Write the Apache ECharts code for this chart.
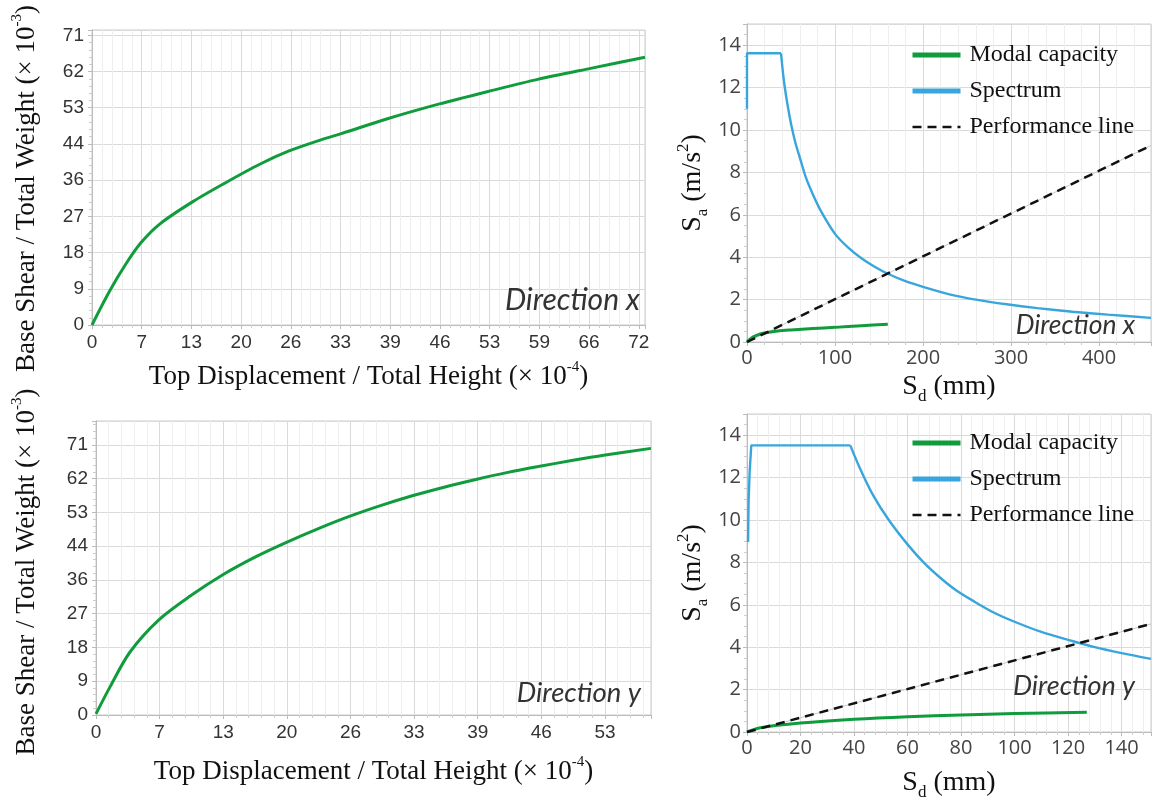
<!DOCTYPE html>
<html>
<head>
<meta charset="utf-8">
<script src="https://cdn.jsdelivr.net/npm/echarts@6/dist/echarts.min.js"></script>
<style>
  html, body { margin: 0; padding: 0; background: #fff; }
  #main { width: 1156px; height: 804px; }
</style>
</head>
<body>
<div id="main"></div>
<script>
// ---- pushover curves (x: top disp / height x1e-4, y: base shear / weight x1e-3)
const pushXDisp  = [0, 2.3, 4.5, 6.5, 9, 13.4, 17.8, 22.2, 26, 30, 33, 39, 46, 53, 59, 66, 73.2];
const pushXShear = [0, 8.2, 15.0, 20.2, 24.8, 30.3, 35.0, 39.4, 42.6, 45.2, 46.9, 50.5, 54.2, 57.5, 60.2, 62.9, 65.6];

const pushYDisp  = [0, 1.45, 3.5, 6.5, 9.7, 13.2, 16.6, 19.7, 23, 26.2, 29.5, 32.8, 36, 39.4, 42.6, 45.9, 49.2, 52.5, 57.4];
const pushYShear = [0.3, 7.4, 16.5, 25.0, 31.2, 37.0, 41.7, 45.4, 49.0, 52.2, 55.1, 57.7, 59.9, 62.0, 63.8, 65.4, 66.9, 68.3, 70.1];

// tick labels printed on the pushover axes
const pushXTicksX = ['0', '7', '13', '20', '26', '33', '39', '46', '53', '59', '66', '72'];
const pushXTicksY = ['0', '7', '13', '20', '26', '33', '39', '46', '53'];
const pushYTicks  = ['0', '9', '18', '27', '36', '44', '53', '62', '71'];
const dispStep = 6.58;
const shearStep = 8.875;

// ---- capacity spectrum, direction x (Sd mm, Sa m/s2)
const capXSd = [0, 3, 7.6, 15, 25, 35, 50, 75, 100, 130, 160];
const capXSa = [0, 0.12, 0.25, 0.38, 0.46, 0.52, 0.57, 0.64, 0.69, 0.77, 0.84];
const specXTopSd = [0, 0, 38.6];
const specXTopSa = [11.0, 13.62, 13.62];
const specXTailSd = [38.6, 42, 46, 50, 55, 60, 67, 75, 85, 100, 115, 130, 145, 160, 180, 200, 230, 260, 295, 330, 370, 410, 459];
const specXTailSa = [13.62, 12.3, 11.2, 10.3, 9.4, 8.7, 7.75, 6.95, 6.1, 5.1, 4.45, 3.95, 3.55, 3.22, 2.87, 2.6, 2.25, 2.0, 1.78, 1.6, 1.43, 1.29, 1.14];
const perfXSd = [0, 459];
const perfXSa = [0, 9.27];

// ---- capacity spectrum, direction y
const capYSd = [0, 5, 20, 40, 60, 80, 100, 127];
const capYSa = [0, 0.2, 0.42, 0.6, 0.72, 0.8, 0.87, 0.93];
const specYTopSd = [0.4, 0.6, 1.0, 1.6, 38.6];
const specYTopSa = [8.96, 10.9, 12.3, 13.52, 13.52];
const specYTailSd = [38.6, 42, 47, 53, 60, 66, 72, 78, 85, 92, 100, 110, 120, 130, 140, 151];
const specYTailSa = [13.52, 12.5, 11.2, 10.0, 8.85, 8.0, 7.3, 6.7, 6.15, 5.65, 5.2, 4.72, 4.35, 4.0, 3.72, 3.45];
const perfYSd = [0, 151];
const perfYSa = [0, 5.1];

const legendNames = ['Modal capacity', 'Spectrum', 'Performance line'];

const GREEN = '#109c3c';
const BLUE = '#38a6dc';
const SERIF = '"Liberation Serif", "Times New Roman", serif';
const SANS = '"Liberation Sans", Arial, sans-serif';
const SANS2 = '"Open Sans", "Noto Sans", sans-serif';

function zip(xs, ys) {
  return xs.map((x, i) => [x, ys[i]]);
}

function pickLabel(list, step) {
  return function(v) {
    const i = Math.round(v / step);
    return list[i] !== undefined ? list[i] : '';
  };
}

const nameRich = {
  n: { fontFamily: SERIF, fontSize: 27, lineHeight: 34, color: '#111' },
  sup: { fontFamily: SERIF, fontSize: 15, lineHeight: 15, color: '#111', verticalAlign: 'top' },
  big: { fontFamily: SERIF, fontSize: 28, lineHeight: 36, color: '#111' },
  sub: { fontFamily: SERIF, fontSize: 17, lineHeight: 17, color: '#111', verticalAlign: 'bottom' },
  bsup: { fontFamily: SERIF, fontSize: 17, lineHeight: 17, color: '#111', verticalAlign: 'top' }
};

function baseAxis(extra) {
  return Object.assign({
    type: 'value',
    min: 0,
    axisLine: { show: true, lineStyle: { color: '#bbb' } },
    axisTick: { show: true, length: 4, lineStyle: { color: '#bbb' } },
    minorTick: { show: true, splitNumber: 5, length: 3, lineStyle: { color: '#ccc' } },
    splitLine: { show: true, lineStyle: { color: '#dadada', width: 1 } },
    minorSplitLine: { show: false, lineStyle: { color: '#eeeeee', width: 1 } },
    nameLocation: 'middle',
    nameTextStyle: { rich: nameRich }
  }, extra);
}

const gridBase = { show: true, borderColor: '#ccc', borderWidth: 1, outerBoundsMode: 'none', containLabel: false };
const grids = [
  Object.assign({ left: 92, top: 30, width: 553, height: 295 }, gridBase),
  Object.assign({ left: 747, top: 24, width: 404, height: 318 }, gridBase),
  Object.assign({ left: 96, top: 421, width: 555, height: 294 }, gridBase),
  Object.assign({ left: 747, top: 414, width: 404, height: 318 }, gridBase)
];

const leftLabel = { fontFamily: SANS, fontSize: 19, color: '#333', margin: 8, showMaxLabel: false };
const rightLabel = { fontFamily: SANS2, fontSize: 20, color: '#444', margin: 6, showMaxLabel: false };

const xAxes = [
  baseAxis({
    gridIndex: 0, max: 73.2, interval: dispStep,
    minorSplitLine: { show: true, lineStyle: { color: '#eeeeee' } },
    axisLabel: Object.assign({}, leftLabel, { formatter: pickLabel(pushXTicksX, dispStep) }),
    name: '{n|Top Displacement / Total Height (× 10}{sup|-4}{n|)}', nameGap: 35
  }),
  baseAxis({
    gridIndex: 1, max: 459, interval: 100,
    minorSplitLine: { show: true, lineStyle: { color: '#eeeeee' } },
    axisLabel: rightLabel,
    name: '{big|S}{sub|d}{big| (mm)}', nameGap: 27
  }),
  baseAxis({
    gridIndex: 2, max: 57.4, interval: dispStep,
    minorSplitLine: { show: true, lineStyle: { color: '#eeeeee' } },
    axisLabel: Object.assign({}, leftLabel, { formatter: pickLabel(pushXTicksY, dispStep) }),
    name: '{n|Top Displacement / Total Height (× 10}{sup|-4}{n|)}', nameGap: 40
  }),
  baseAxis({
    gridIndex: 3, max: 151, interval: 20,
    minorSplitLine: { show: true, lineStyle: { color: '#eeeeee' } },
    axisLabel: rightLabel,
    name: '{big|S}{sub|d}{big| (mm)}', nameGap: 33
  })
];

// shift the long rotated names a little downwards, as in the figure
const shearName = { rich: nameRich, padding: [0, 22, 0, 0] };

const yAxes = [
  baseAxis({
    gridIndex: 0, max: 72.3, interval: shearStep,
    axisLabel: Object.assign({}, leftLabel, { formatter: pickLabel(pushYTicks, shearStep) }),
    name: '{n|Base Shear / Total Weight (× 10}{sup|-3}{n|)}', nameRotate: 90, nameGap: 48,
    nameTextStyle: shearName
  }),
  baseAxis({
    gridIndex: 1, max: 15, interval: 2,
    minorTick: { show: true, splitNumber: 4, length: 3, lineStyle: { color: '#ccc' } },
    axisLabel: rightLabel,
    name: '{big|S}{sub|a}{big| (m/s}{bsup|2}{big|)}', nameRotate: 90, nameGap: 36
  }),
  baseAxis({
    gridIndex: 2, max: 77.3, interval: shearStep,
    axisLabel: Object.assign({}, leftLabel, { formatter: pickLabel(pushYTicks, shearStep) }),
    name: '{n|Base Shear / Total Weight (× 10}{sup|-3}{n|)}', nameRotate: 90, nameGap: 52,
    nameTextStyle: { rich: nameRich, padding: [0, 8, 0, 0] }
  }),
  baseAxis({
    gridIndex: 3, max: 15, interval: 2,
    minorTick: { show: true, splitNumber: 4, length: 3, lineStyle: { color: '#ccc' } },
    axisLabel: rightLabel,
    name: '{big|S}{sub|a}{big| (m/s}{bsup|2}{big|)}', nameRotate: 90, nameGap: 36
  })
];

function curve(name, idx, xs, ys, color, width, extra) {
  return Object.assign({
    name: name, type: 'line', xAxisIndex: idx, yAxisIndex: idx,
    data: zip(xs, ys), symbol: 'none', showSymbol: false, silent: true,
    lineStyle: { color: color, width: width }, itemStyle: { color: color },
    z: 3
  }, extra || {});
}

function spectrumSeries(idx, cap, specTop, specTail, perf) {
  return [
    curve('guide', idx, perf[0], perf[1], '#c8c8c8', 1, { z: 2 }),
    curve('Performance line', idx, perf[0], perf[1], '#111', 2.5, { lineStyle: { color: '#111', width: 2.5, type: [9, 6] }, z: 4 }),
    curve('Spectrum', idx, specTop[0], specTop[1], BLUE, 2.4),
    curve('Spectrum', idx, specTail[0], specTail[1], BLUE, 2.4, { smooth: 0.3 }),
    curve('Modal capacity', idx, cap[0], cap[1], GREEN, 3, { smooth: 0.3 })
  ];
}

const series = [
  curve('pushX', 0, pushXDisp, pushXShear, GREEN, 3, { smooth: 0.3 }),
  curve('pushY', 2, pushYDisp, pushYShear, GREEN, 3, { smooth: 0.3 })
].concat(
  spectrumSeries(1, [capXSd, capXSa], [specXTopSd, specXTopSa], [specXTailSd, specXTailSa], [perfXSd, perfXSa]),
  spectrumSeries(3, [capYSd, capYSa], [specYTopSd, specYTopSa], [specYTailSd, specYTailSa], [perfYSd, perfYSa])
);

function legendAt(top) {
  const hide = { opacity: 0 };
  return {
    orient: 'vertical', left: 905, top: top,
    itemWidth: 48, itemHeight: 12, itemGap: 12,
    selectedMode: false,
    itemStyle: hide,
    data: [
      { name: legendNames[0], lineStyle: { width: 5 }, itemStyle: hide },
      { name: legendNames[1], lineStyle: { width: 5 }, itemStyle: hide },
      { name: legendNames[2], lineStyle: { width: 2.5 }, itemStyle: hide }
    ],
    textStyle: { fontFamily: SERIF, fontSize: 24, lineHeight: 24, color: '#111', padding: [0, 0, 0, 4] }
  };
}

function dirStyle(size) {
  return { fontFamily: 'Lato, "Open Sans", sans-serif', fontStyle: 'italic', fontWeight: 'normal', fontSize: size, color: '#333' };
}

const option = {
  backgroundColor: '#fff',
  animation: false,
  title: [
    { text: 'Direction x', right: 511, top: 280, textStyle: dirStyle(30) },
    { text: 'Direction x', right: 16, top: 307, textStyle: dirStyle(26.5) },
    { text: 'Direction y', right: 510, top: 675, textStyle: dirStyle(27.5) },
    { text: 'Direction y', right: 16, top: 668, textStyle: dirStyle(27) }
  ],
  legend: [legendAt(38), legendAt(426)],
  grid: grids,
  xAxis: xAxes,
  yAxis: yAxes,
  series: series
};

const chart = echarts.init(document.getElementById('main'));
chart.setOption(option);
</script>
</body>
</html>
